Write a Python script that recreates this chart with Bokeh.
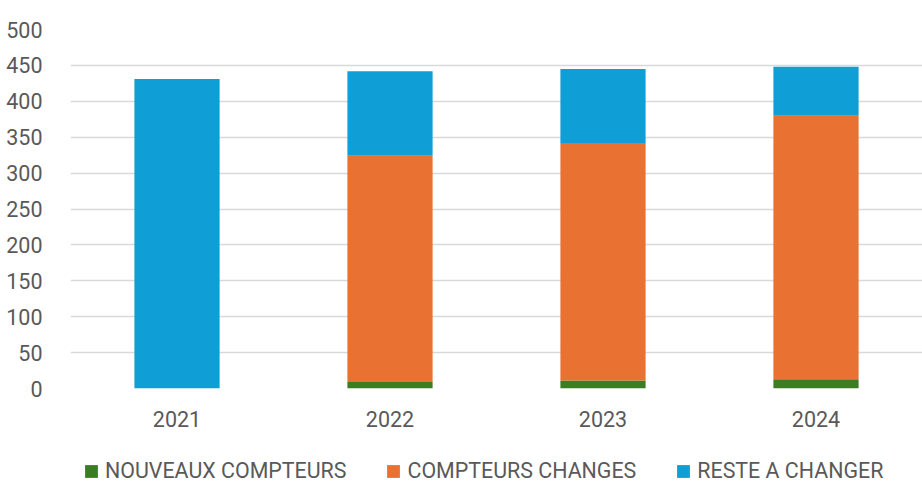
from bokeh.plotting import figure
from bokeh.models import Legend, LegendItem, FactorRange, Range1d, ColumnDataSource
from bokeh.layouts import column
from bokeh.embed import file_html
from bokeh.resources import INLINE

years = ["2021", "2022", "2023", "2024"]
nouveaux = [0, 9, 11, 13]
changes = [0, 315, 331, 367]
reste = [431, 118, 103, 68]
series = ["nouveaux", "changes", "reste"]
labels = ["NOUVEAUX COMPTEURS", "COMPTEURS CHANGES", "RESTE A CHANGER"]
colors = ["#3A7D22", "#E97132", "#0F9ED5"]
y_ticks = [0, 50, 100, 150, 200, 250, 300, 350, 400, 450, 500]

src = ColumnDataSource(dict(years=years, nouveaux=nouveaux, changes=changes, reste=reste))

FONT = "Roboto"
p = figure(x_range=FactorRange(*years), y_range=Range1d(0, 500),
           frame_width=852, frame_height=359, output_backend="svg", toolbar_location=None,
           min_border_left=70, min_border_right=0, min_border_top=29, min_border_bottom=52)
p.outline_line_color = None

r = p.vbar_stack(series, x="years", width=0.4, source=src, color=colors, line_width=0)

p.yaxis.ticker = y_ticks
p.ygrid.grid_line_color = "#D9D9D9"
p.ygrid.grid_line_width = 1.3
p.xgrid.grid_line_color = None
for ax in (p.xaxis[0], p.yaxis[0]):
    ax.axis_line_color = None
    ax.major_tick_line_color = None
    ax.minor_tick_line_color = None
    ax.major_label_text_font = FONT
    ax.major_label_text_font_size = "21.5px"
    ax.major_label_text_color = "#595959"
p.yaxis.major_label_standoff = 22
p.xaxis.major_label_standoff = 16

# Legend strip: same series drawn in a second figure whose y range is far away,
# so only the legend shows.
lp = figure(x_range=FactorRange(*years), y_range=Range1d(1000, 1001),
            frame_width=922, frame_height=43, output_backend="svg", toolbar_location=None,
            x_axis_type=None, y_axis_type=None,
            min_border_left=0, min_border_right=0, min_border_top=0, min_border_bottom=0)
lp.outline_line_color = None
lp.grid.visible = False
lr = lp.vbar_stack(series, x="years", width=0.4, source=src, color=colors, line_width=0)

legend = Legend(items=[LegendItem(label=l, renderers=[rr]) for l, rr in zip(labels, lr)],
                orientation="horizontal", location=(83, 0), nrows=1,
                label_text_font=FONT, label_text_font_size="21.4px", label_text_color="#595959",
                label_height=20, glyph_width=16, glyph_height=16, label_standoff=6, spacing=39,
                border_line_color=None, background_fill_alpha=0, margin=0, padding=0)
lp.add_layout(legend, "center")

layout = column(p, lp, spacing=0)
open("out.html", "w").write(file_html(layout, INLINE))
